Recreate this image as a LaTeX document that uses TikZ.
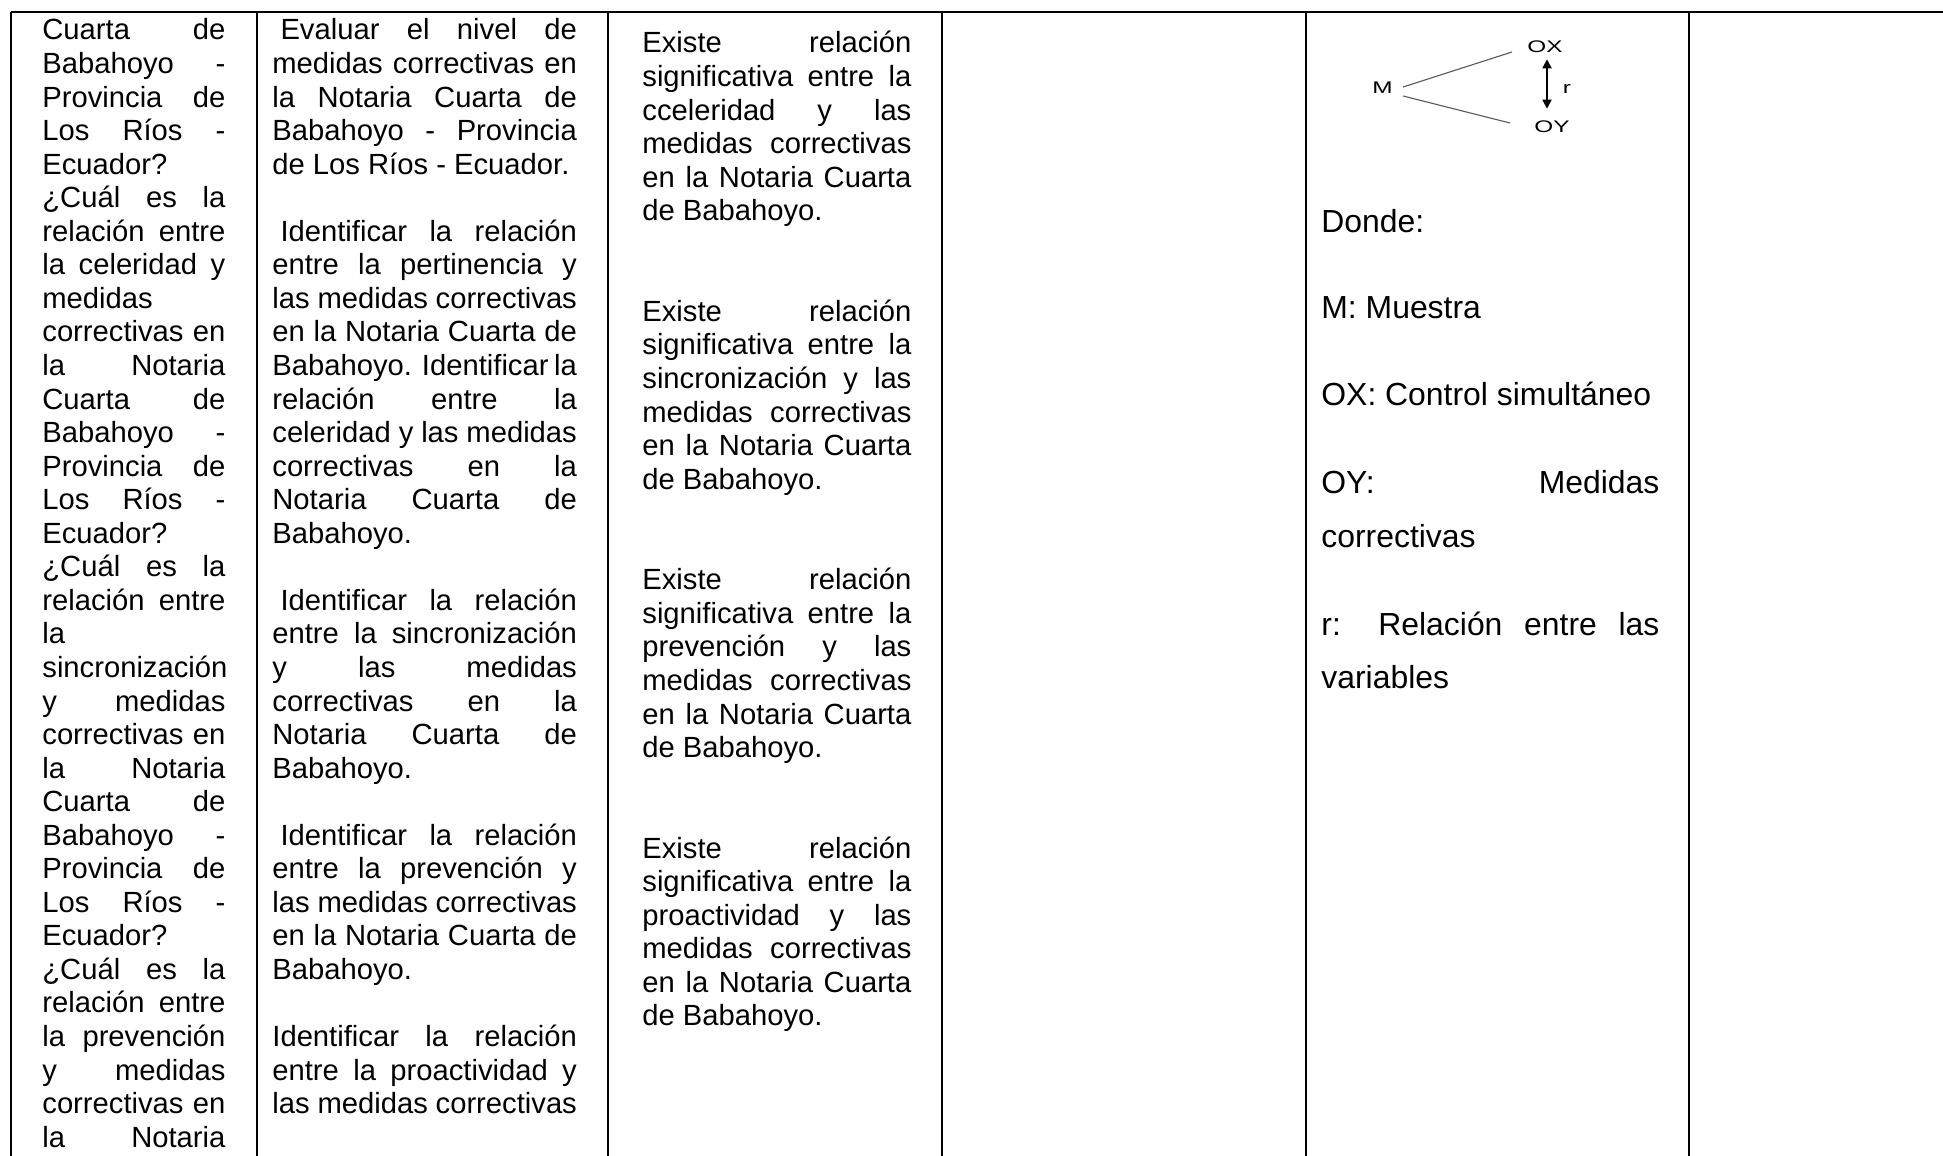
\documentclass[tikz,border=0pt]{standalone}
\usepackage{graphicx}
\usepackage{fontspec}
\setmainfont{Liberation Sans}
\usetikzlibrary{arrows.meta,calc}
\newcommand\Ja[1]{\makebox[91.5pt][s]{#1}}
\newcommand\Jb[1]{\makebox[152.25pt][s]{#1}}
\newcommand\Jc[1]{\makebox[134.5pt][s]{#1}}
\newcommand\Je[1]{\makebox[169pt][s]{#1}}
\newcommand\lsp{\hspace*{0.278em}}
\newcommand\wide[1]{\scalebox{1.45}[1]{#1}}
\begin{document}
\begin{tikzpicture}[x=0.5pt,y=-0.5pt,
  grid/.style={line width=1pt, black},
  txt/.style={inner sep=0pt, anchor=base west, font=\fontsize{14.6pt}{16.8pt}\selectfont},
  txtb/.style={inner sep=0pt, anchor=base west, font=\fontsize{15.95pt}{19pt}\selectfont},
  lbl/.style={inner sep=0pt, font=\fontsize{8.4pt}{10pt}\selectfont},
  thinln/.style={line width=0.55pt, black!65},
  relarr/.style={line width=1pt, {Triangle[length=4.5pt,width=4.5pt]}-{Triangle[length=4.5pt,width=4.5pt]}}]
\useasboundingbox (0,0) rectangle (1943,1156);
\fill[white] (0,0) rectangle (1943,1156);
% table rules
\draw[grid] (11,12) -- (1943,12);
\foreach \x in {11,257,608,942,1306,1689} \draw[grid] (\x,12) -- (\x,1156);
% column 1
\foreach \t [count=\i from 0] in {
 {\Ja{Cuarta de}},{\Ja{Babahoyo -}},{\Ja{Provincia de}},{\Ja{Los Ríos -}},{Ecuador?},
 {\Ja{¿Cuál es la}},{\Ja{relación entre}},{\Ja{la celeridad y}},{medidas},{\Ja{correctivas en}},
 {\Ja{la Notaria}},{\Ja{Cuarta de}},{\Ja{Babahoyo -}},{\Ja{Provincia de}},{\Ja{Los Ríos -}},
 {Ecuador?},{\Ja{¿Cuál es la}},{\Ja{relación entre}},{la},{sincronización},
 {\Ja{y medidas}},{\Ja{correctivas en}},{\Ja{la Notaria}},{\Ja{Cuarta de}},{\Ja{Babahoyo -}},
 {\Ja{Provincia de}},{\Ja{Los Ríos -}},{Ecuador?},{\Ja{¿Cuál es la}},{\Ja{relación entre}},
 {\Ja{la prevención}},{\Ja{y medidas}},{\Ja{correctivas en}},{\Ja{la Notaria}}}
 \node[txt] (a\i) at (42,{40+\i*33.55}) {\t};
% column 2
\foreach \i/\t in {
 0/{\Jb{\lsp Evaluar el nivel de}},1/{\Jb{medidas correctivas en}},2/{\Jb{la Notaria Cuarta de}},
 3/{\Jb{Babahoyo - Provincia}},4/{de Los Ríos - Ecuador.},
 6/{\Jb{\lsp Identificar la relación}},7/{\Jb{entre la pertinencia y}},8/{\Jb{las medidas correctivas}},
 9/{\Jb{en la Notaria Cuarta de}},10/{\Jb{Babahoyo. Identificar la}},11/{\Jb{relación entre la}},
 12/{\Jb{celeridad y las medidas}},13/{\Jb{correctivas en la}},14/{\Jb{Notaria Cuarta de}},15/{Babahoyo.},
 17/{\Jb{\lsp Identificar la relación}},18/{\Jb{entre la sincronización}},19/{\Jb{y las medidas}},
 20/{\Jb{correctivas en la}},21/{\Jb{Notaria Cuarta de}},22/{Babahoyo.},
 24/{\Jb{\lsp Identificar la relación}},25/{\Jb{entre la prevención y}},26/{\Jb{las medidas correctivas}},
 27/{\Jb{en la Notaria Cuarta de}},28/{Babahoyo.},
 30/{\Jb{Identificar la relación}},31/{\Jb{entre la proactividad y}},32/{\Jb{las medidas correctivas}}}
 \node[txt] (b\i) at (272,{40+\i*33.55}) {\t};
% column 3
\foreach \w [count=\b from 0] in {cceleridad,sincronización,prevención,proactividad}{
 \node[txt] (c\b-0) at (642,{53+(8*\b+0)*33.55}) {\Jc{Existe relación}};
 \node[txt] (c\b-1) at (642,{53+(8*\b+1)*33.55}) {\Jc{significativa entre la}};
 \node[txt] (c\b-2) at (642,{53+(8*\b+2)*33.55}) {\Jc{\w\ y las}};
 \node[txt] (c\b-3) at (642,{53+(8*\b+3)*33.55}) {\Jc{medidas correctivas}};
 \node[txt] (c\b-4) at (642,{53+(8*\b+4)*33.55}) {\Jc{en la Notaria Cuarta}};
 \node[txt] (c\b-5) at (642,{53+(8*\b+5)*33.55}) {de Babahoyo.};
}
% column 5: design diagram
\node[lbl] (M) at (1382.5,88) {\wide{M}};
\node[lbl] (OX) at (1545,47) {\wide{OX}};
\node[lbl] (OY) at (1552,127) {\wide{OY}};
\node[lbl] (r) at (1567,89) {\wide{r}};
\draw[thinln] ($(M.east)+(10,-1)$) -- ($(OX.west)+(-15,5)$);
\draw[thinln] ($(M.east)+(10,8)$) -- ($(OY.west)+(-24,-4)$);
\draw[relarr] ($(OX.south)+(2,6)$) -- ($(OY.north)+(-5,-12)$);
% column 5: legend
\node[txtb] (e1) at (1321,232) {Donde:};
\node[txtb] (e2) at (1321,318) {M: Muestra};
\node[txtb] (e3) at (1321,405) {OX: Control simultáneo};
\node[txtb] (e4) at (1321,493) {\Je{OY: Medidas}};
\node[txtb] (e5) at (1321,547) {correctivas};
\node[txtb] (e6) at (1321,635) {\Je{r: Relación entre las}};
\node[txtb] (e7) at (1321,688) {variables};
\end{tikzpicture}
\end{document}
